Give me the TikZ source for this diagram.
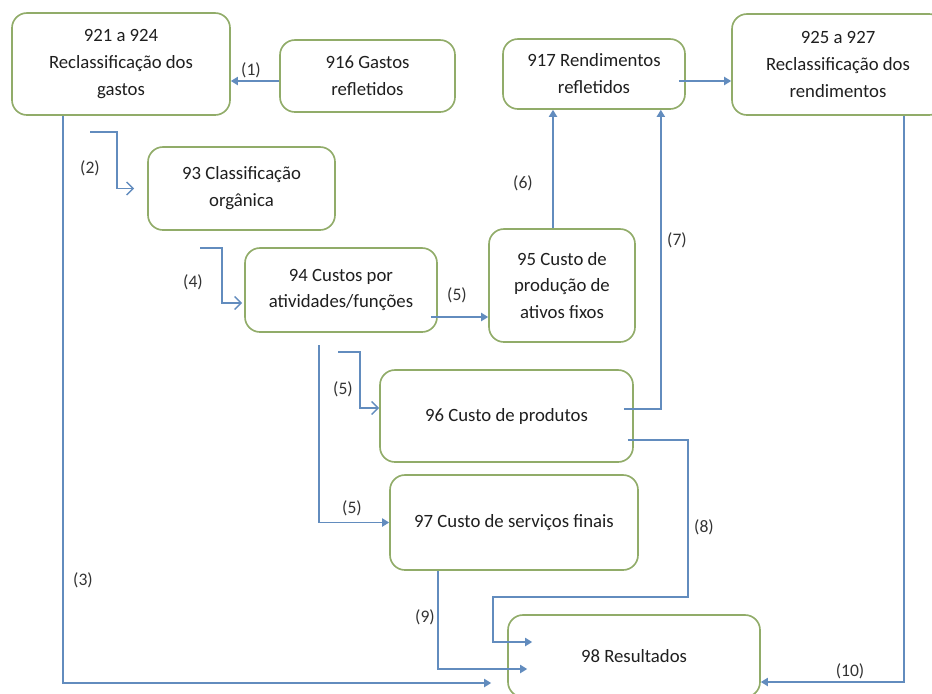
\documentclass[tikz,border=0pt]{standalone}
\usepackage{fontspec}
\setmainfont{Carlito}
\usepackage{tikz}
\usetikzlibrary{positioning, arrows.meta, calc}
\definecolor{boxgreen}{RGB}{145,172,105}
\definecolor{flowblue}{RGB}{98,140,190}

\begin{document}
\begin{tikzpicture}[x=0.03cm, y=-0.03cm,
    box/.style={draw=boxgreen, line width=1.4pt, rounded corners=0.45cm, fill=white, align=center,
        text=black!88, font=\fontsize{16}{23}\selectfont},
    flow/.style={draw=flowblue, line width=1.3pt, -{Triangle[width=7pt, length=6pt]}},
    flowopen/.style={draw=flowblue, line width=1.3pt, -{Straight Barb[width=11pt, length=5.5pt, line width=1.3pt]}},
    lbl/.style={text=black!80, font=\fontsize{15}{17}\selectfont}]
    \useasboundingbox (0,0) rectangle (932,693);

    \node[box, minimum width=6.54cm, minimum height=3.06cm] (reclgastos) at (121,64) {921 a 924\\Reclassificação dos\\gastos};
    \node[box, minimum width=5.25cm, minimum height=2.16cm] (gastos) at (367.5,76) {916 Gastos\\refletidos};
    \node[box, minimum width=5.46cm, minimum height=2.1cm] (rendim) at (594,74) {917 Rendimentos\\refletidos};
    \node[box, minimum width=6.36cm, minimum height=3.03cm] (reclrend) at (838,64.5) {925 a 927\\Reclassificação dos\\rendimentos};
    \node[box, minimum width=5.61cm, minimum height=2.49cm] (organica) at (241.5,188.5) {93 Classificação\\orgânica};
    \node[box, minimum width=5.76cm, minimum height=2.52cm] (atividades) at (341,290) {94 Custos por\\atividades/funções};
    \node[box, minimum width=4.38cm, minimum height=3.39cm] (ativos) at (562,285.5) {95 Custo de\\produção de\\ativos fixos};
    \node[box, minimum width=7.59cm, minimum height=2.76cm] (produtos) at (506.5,416) {96 Custo de produtos};
    \node[box, minimum width=7.44cm, minimum height=2.85cm] (servicos) at (514,522.5) {97 Custo de serviços finais};
    \node[box, minimum width=7.56cm, minimum height=2.46cm] (resultados) at (634,656) {98 Resultados};

    \coordinate (s2) at (90,132);
    \coordinate (s4) at (200,248);
    \coordinate (s5a) at (338,352);
    \coordinate (s5b) at (319,345);

    \draw[flow] ($(gastos.west)+(0,5)$) coordinate (p1) -- (p1 -| reclgastos.east);
    \draw[flowopen] (s2) -- ++(27,0) |- ($(organica.west)+(-13,0)$);
    \draw[flow] ($(reclgastos.south west)+(52,0)$) |- ($(resultados.west)+(-16,27)$);
    \draw[flowopen] (s4) -- ++(22,0) |- ($(atividades.west)+(-2,13)$);
    \draw[flow] ($(atividades.east)+(-7,27)$) coordinate (p5) -- (p5 -| ativos.west);
    \draw[flow] ($(ativos.north)+(-9,0)$) coordinate (p6) -- (p6 |- rendim.south);
    \draw[flow] ($(rendim.east)+(-7,7)$) coordinate (pr) -- (pr -| reclrend.west);
    \draw[flow] ($(produtos.east)+(-10,-7)$) -| ($(rendim.south east)+(-25,0)$);
    \draw[flowopen] (s5a) -- ++(22,0) |- ($(produtos.west)+(0,-8)$);
    \draw[flow] (s5b) |- (servicos.west);
    \draw[flow] ($(produtos.east)+(-6,24)$) -- ++(60,0) -- ++(0,157) -- ++(-195,0) |- ($(resultados.west)+(25,-14)$);
    \draw[flow] ($(servicos.south)+(-76,0)$) |- ($(resultados.west)+(20,13)$);
    \draw[flow] ($(reclrend.south)+(66,0)$) |- ($(resultados.east)+(0,26)$);

    \node[lbl] (l1) at (251,70) {(1)};
    \node[lbl] (l2) at (90,168) {(2)};
    \node[lbl] (l3) at (83,580) {(3)};
    \node[lbl] (l4) at (193,282) {(4)};
    \node[lbl] (l5a) at (457,295) {(5)};
    \node[lbl] (l6) at (523,183) {(6)};
    \node[lbl] (l7) at (677,240) {(7)};
    \node[lbl] (l5b) at (343,389) {(5)};
    \node[lbl] (l5c) at (352,508) {(5)};
    \node[lbl] (l8) at (704,527) {(8)};
    \node[lbl] (l9) at (425,617) {(9)};
    \node[lbl] (l10) at (850,671) {(10)};
\end{tikzpicture}
\end{document}
